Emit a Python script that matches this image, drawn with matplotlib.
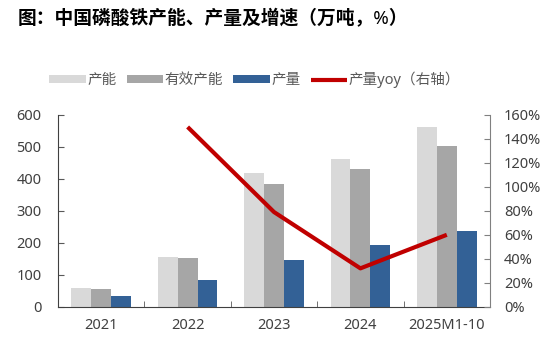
import numpy as np
import matplotlib.pyplot as plt
from matplotlib.ticker import FuncFormatter, FixedLocator

plt.rcParams['font.family'] = ['Noto Sans', 'Noto Sans CJK SC', 'DejaVu Sans']

# ===== 数据 =====
years = ["2021", "2022", "2023", "2024", "2025M1-10"]
capacity = [58, 155, 418, 462, 562]          # 产能
eff_capacity = [56, 153, 385, 430, 502]      # 有效产能
output = [35, 84, 147, 192, 238]             # 产量
yoy_years = ["2022", "2023", "2024", "2025M1-10"]
yoy = [150, 79, 32, 60]                      # 产量yoy (%)

C_CAP = "#D9D9D9"
C_EFF = "#A6A6A6"
C_OUT = "#336196"
C_LINE = "#C00000"
TXT = "#404040"

# ===== 绘图 =====
fig = plt.figure(figsize=(5.54, 3.41), dpi=100)
ax = fig.add_axes([0.1047, 0.1006, 0.7798, 0.5622])
ax2 = ax.twinx()

x = np.arange(len(years))
w = 0.23
ax.bar(x - w, capacity, w, color=C_CAP, label="产能")
ax.bar(x, eff_capacity, w, color=C_EFF, label="有效产能")
ax.bar(x + w, output, w, color=C_OUT, label="产量")

xl = [years.index(y) for y in yoy_years]
ax2.plot(xl, yoy, color=C_LINE, lw=3, solid_capstyle="butt", label="产量yoy（右轴）")

ax.set_xlim(-0.5, len(years) - 0.5)
ax.set_ylim(0, 600)
ax.set_yticks(range(0, 601, 100))
ax2.set_ylim(0, 160)
ax2.set_yticks(range(0, 161, 20))
ax2.yaxis.set_major_formatter(FuncFormatter(lambda v, p: f"{int(v)}%"))

ax.set_xticks(x)
ax.set_xticklabels(years)
ax.xaxis.set_minor_locator(FixedLocator(np.arange(0.5, len(years) - 1, 1)))
ax.tick_params(axis="x", which="major", length=0, labelsize=10.5, colors=TXT, pad=8)
ax.tick_params(axis="x", which="minor", direction="in", length=4, color="#595959")
ax.tick_params(axis="y", direction="in", length=4, labelsize=10.5, colors=TXT, pad=12)
ax2.tick_params(axis="y", direction="in", length=4, labelsize=10.5, colors=TXT, pad=10)
ax.tick_params(axis="y", color="#595959")
ax2.tick_params(axis="y", color="#808080")

for a in (ax, ax2):
    a.spines["top"].set_visible(False)
ax.spines["right"].set_visible(False)
ax.spines["left"].set_color("#404040")
ax.spines["bottom"].set_color("#404040")
ax2.spines["left"].set_visible(False)
ax2.spines["bottom"].set_visible(False)
ax2.spines["right"].set_color("#808080")

# ===== 图例 / 标题 =====
h1, l1 = ax.get_legend_handles_labels()
h2, l2 = ax2.get_legend_handles_labels()
fig.legend(h1 + h2, l1 + l2, loc="center", bbox_to_anchor=(0.46, 0.765), ncol=4,
           frameon=False, fontsize=10.5, handlelength=2.5, handleheight=0.5,
           handletextpad=0.1, columnspacing=0.7, labelcolor="#595959")

fig.text(0.032, 0.945, "图：中国磷酸铁产能、产量及增速（万吨，%）", fontsize=13.5,
         fontweight="bold", va="center", ha="left", color="#000000")

fig.savefig("out.png", dpi=100)
